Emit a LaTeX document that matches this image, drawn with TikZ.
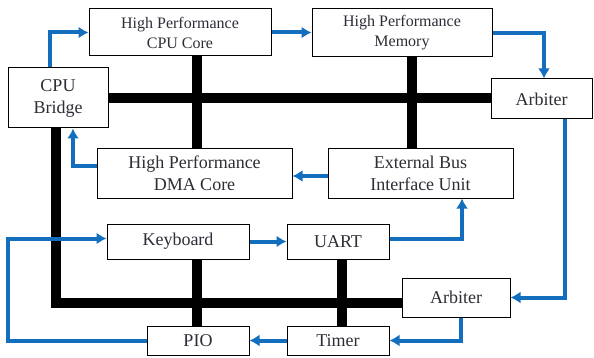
\documentclass[tikz,border=0pt]{standalone}
\usepackage{fontspec}
\setmainfont{Liberation Serif}
\usepackage{xcolor}
\usepackage{tikz}
\usetikzlibrary{arrows.meta}
\definecolor{linkblue}{RGB}{20,110,190}
\definecolor{txtgray}{RGB}{45,45,55}
\tikzset{every picture/.style={line width=0.5pt}}
\tikzset{
  blk/.style={draw,fill=white,inner sep=0pt,align=center,text=txtgray,font=\fontsize{9}{11}\selectfont},
  blktop/.style={blk,font=\fontsize{8}{10}\selectfont},
  bus/.style={line width=4.75pt,line join=miter},
  link/.style={draw=linkblue,line width=2pt,-{Latex[length=5pt,width=6pt]}},
}

\begin{document}
\begin{tikzpicture}[x=0.5pt,y=0.5pt,yscale=-1,xscale=1]
    \useasboundingbox (0,0) rectangle (594,358);
    % boxes
    \node[blktop,minimum width=91pt,minimum height=23.5pt] (cpu) at (180,32.5) {High Performance\\CPU Core};
    \node[blktop,minimum width=90pt,minimum height=24pt] (mem) at (402,33) {High Performance\\Memory};
    \node[blk,minimum width=50pt,minimum height=30pt] (bridge) at (58,98) {CPU\\Bridge};
    \node[blk,minimum width=50.5pt,minimum height=20pt] (arbA) at (541.5,99) {Arbiter};
    \node[blk,minimum width=97.5pt,minimum height=25pt] (dma) at (194.5,173) {High Performance\\DMA Core};
    \node[blk,minimum width=92.5pt,minimum height=25pt] (ebi) at (420.5,173) {External Bus\\Interface Unit};
    \node[blk,minimum width=71pt,minimum height=17.5pt] (kbd) at (178,241.5) {Keyboard};
    \node[blk,minimum width=51pt,minimum height=17.5pt] (uart) at (338,241.5) {UART};
    \node[blk,minimum width=54pt,minimum height=19.5pt] (arbB) at (456,297.5) {Arbiter};
    \node[blk,minimum width=51pt,minimum height=14.5pt] (pio) at (198,340.5) {PIO};
    \node[blk,minimum width=51pt,minimum height=14.5pt] (timer) at (338,340.5) {Timer};
    % buses
    \draw[bus] (bridge.east) -- (bridge.east -| arbA.west);
    \draw[bus] ([xshift=8.5pt]cpu.south) -- ([xshift=8.5pt]cpu.south |- dma.north);
    \draw[bus] ([xshift=5pt]mem.south) -- ([xshift=5pt]mem.south |- ebi.north);
    \draw[bus] ([xshift=-1pt]bridge.south) |- ([yshift=2.75pt]arbB.west);
    \draw[bus] ([xshift=9.5pt]kbd.south) -- ([xshift=9.5pt]kbd.south |- pio.north);
    \draw[bus] ([xshift=2pt]uart.south) -- ([xshift=2pt]uart.south |- timer.north);
    % data paths
    \draw[link] ([xshift=-4pt]bridge.north) |- (cpu.west);
    \draw[link] (cpu.east) -- (cpu.east -| mem.west);
    \draw[link] (mem.east) -| ([xshift=1.25pt]arbA.north);
    \draw[link] ([xshift=11.75pt]arbA.south) |- (arbB.east);
    \draw[link] ([xshift=2.5pt]arbB.south) |- (timer.east);
    \draw[link] (timer.west) -- (pio.east);
    \draw[link] (pio.west) -- (pio.west -| bridge.west) |- ([yshift=-1.5pt]kbd.west);
    \draw[link] (kbd.east) -- (uart.west);
    \draw[link] ([yshift=-1.25pt]uart.east) -| ([xshift=20.75pt]ebi.south);
    \draw[link] ([yshift=1.5pt]ebi.west) -- ([yshift=1.5pt]ebi.west -| dma.east);
    \draw[link] ([yshift=-3.5pt]dma.west) -| ([xshift=7.5pt]bridge.south);
\end{tikzpicture}
\end{document}
